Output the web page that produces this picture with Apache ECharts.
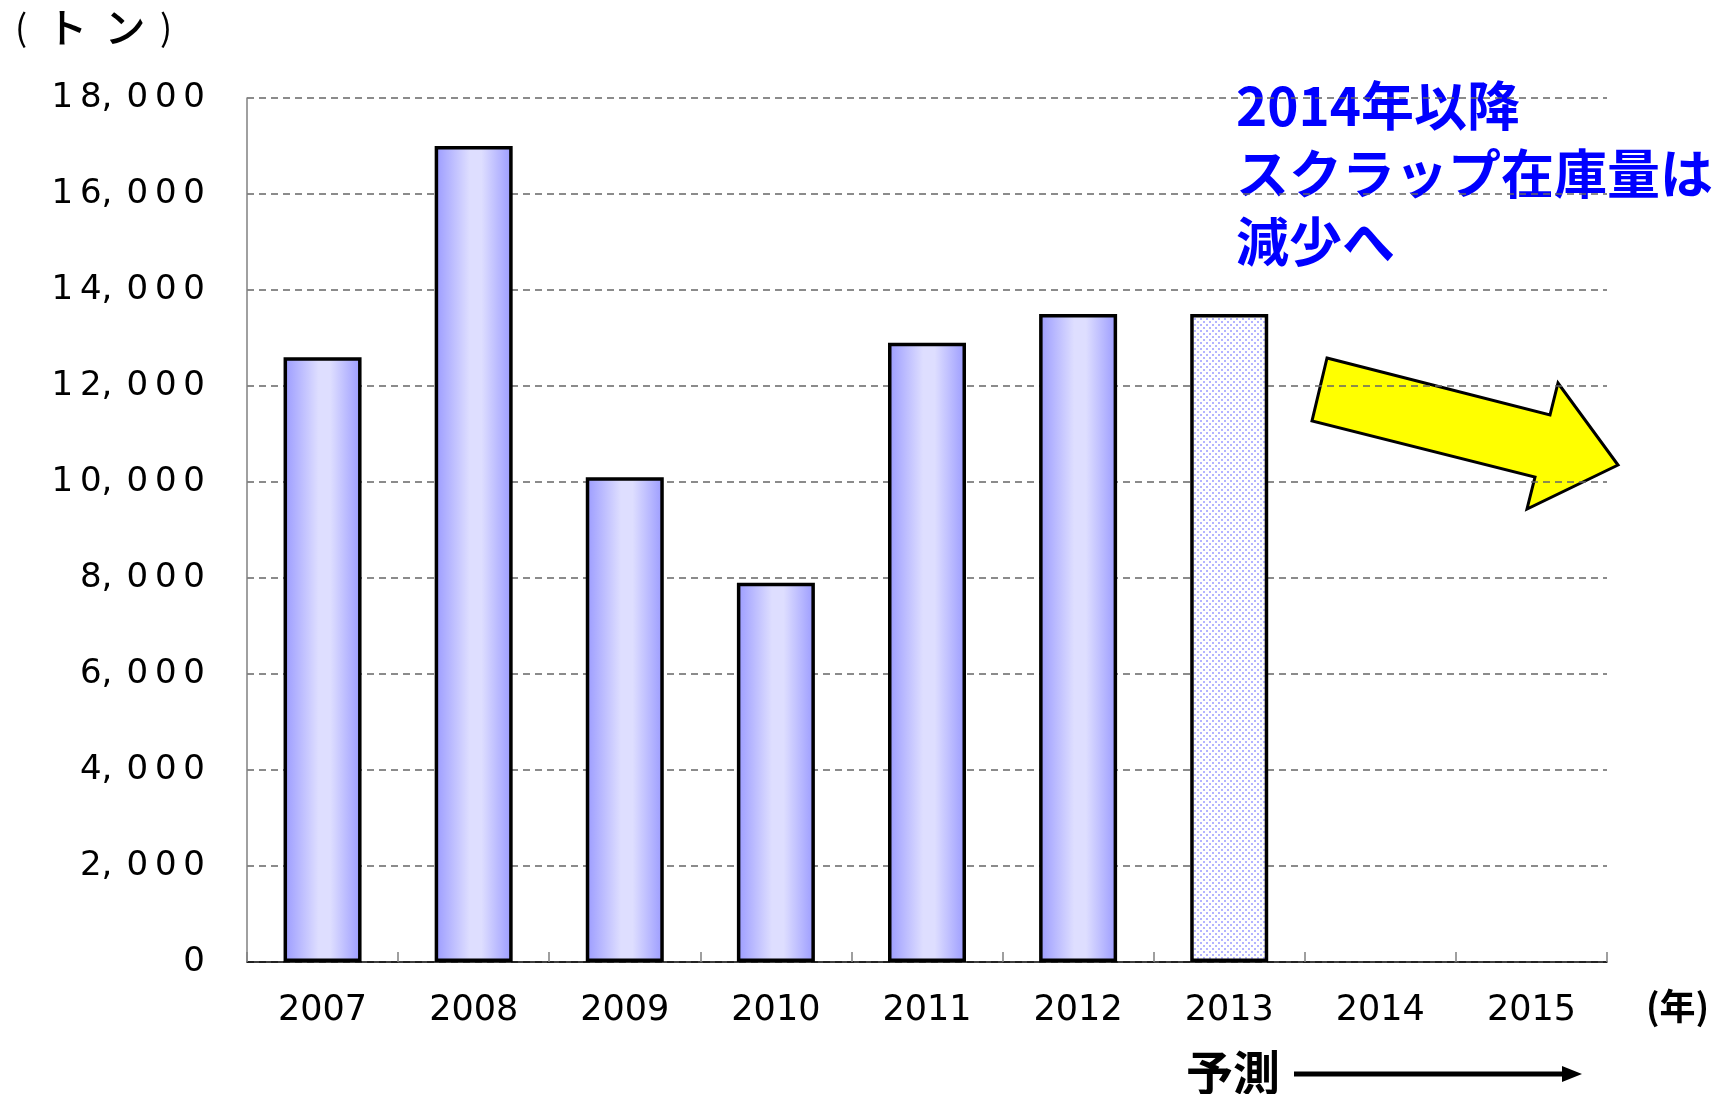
<!DOCTYPE html>
<html>
<head>
<meta charset="utf-8">
<script src="https://cdn.jsdelivr.net/npm/echarts@6/dist/echarts.min.js"></script>
<style>
html,body{margin:0;padding:0;background:#fff;}
#chart{width:1724px;height:1094px;}
</style>
</head>
<body>
<div id="chart"></div>
<script>
// ---- data ----
const years = ['2007','2008','2009','2010','2011','2012','2013','2014','2015'];
const stock = [12600, 17000, 10100, 7900, 12900, 13500, 13500, null, null];
const forecastIndex = 6; // 2013 bar drawn as forecast (dotted)
const yTicks = [0, 2000, 4000, 6000, 8000, 10000, 12000, 14000, 16000, 18000];
const unitChars = ['(', 'ト', 'ン', ')'];
const yearLabel = '(年)';
const noteText = '2014年以降\nスクラップ在庫量は\n減少へ';
const forecastText = '予測';

// dotted pattern for forecast bar
const pc = document.createElement('canvas');
pc.width = 6; pc.height = 6;
const pctx = pc.getContext('2d');
pctx.fillStyle = '#ffffff';
pctx.fillRect(0,0,6,6);
pctx.fillStyle = '#b4b4ff';
pctx.fillRect(0,0,2,2);
pctx.fillRect(3,3,2,2);

const barGrad = new echarts.graphic.LinearGradient(0,0,1,0,[
  {offset:0, color:'#9a9aff'},
  {offset:0.45, color:'#dedeff'},
  {offset:0.6, color:'#dedeff'},
  {offset:1, color:'#9a9aff'}
]);

const seriesData = stock.map((v,i)=>{
  if (i === forecastIndex) {
    return {value:v, itemStyle:{color:{image:pc, repeat:'repeat'}}};
  }
  return v;
});

const chart = echarts.init(document.getElementById('chart'), null, {renderer:'canvas'});
const latin = 'DejaVu Sans';
const cjk = '"Noto Sans CJK JP"';
const TS = '\u2009';
function spaced(s){ return s.split('').join(TS); }

const unitX = [21, 67, 125, 166];
const unitGraphics = unitChars.map((c,i)=>({
  type:'text', x:unitX[i], y:27,
  style:{text:c, font:(i===0||i===3?'36px ':'500 41px ')+cjk, fill:'#000', textAlign:'center', textVerticalAlign:'middle'}
}));

chart.setOption({
  animation:false,
  backgroundColor:'#ffffff',
  grid:{left:247, right:117, top:98, bottom:132},
  xAxis:{
    type:'category',
    data:years,
    boundaryGap:true,
    axisLine:{show:true, lineStyle:{color:'#000', width:1.5}},
    axisTick:{show:true, inside:true, length:10, alignWithLabel:false, lineStyle:{color:'#808080', width:1.5}},
    axisLabel:{color:'#000', fontSize:35, fontFamily:latin, margin:31}
  },
  yAxis:{
    type:'value',
    min:yTicks[0], max:yTicks[yTicks.length-1], interval:2000,
    axisLine:{show:true, lineStyle:{color:'#808080', width:1.5}},
    axisTick:{show:false},
    splitLine:{show:true, lineStyle:{color:'#666666', width:1.5, type:[7,5]}},
    axisLabel:{
      color:'#000', fontSize:34, fontFamily:latin, margin:42, padding:[5,0,0,0],
      formatter:function(v){
        if (v < 1000) return String(v);
        const th = String(Math.floor(v/1000));
        const rest = String(v%1000).padStart(3,'0');
        return spaced(th) + ', \u200A' + spaced(rest);
      }
    }
  },
  series:[{
    type:'bar',
    data:seriesData,
    barWidth:78,
    itemStyle:{color:barGrad, borderColor:'#000', borderWidth:3.5}
  }],
  graphic:unitGraphics.concat([
    {type:'text', x:1646, y:1006, style:{text:yearLabel, font:'bold 36px '+cjk, fill:'#000', textVerticalAlign:'middle'}},
    {type:'text', x:1236, y:72, style:{text:noteText, font:'bold 53px '+cjk, fill:'#0000ff', lineHeight:68}},
    {type:'text', x:1186, y:1072, style:{text:forecastText, font:'bold 47px '+cjk, fill:'#000', textVerticalAlign:'middle'}},
    {type:'line', shape:{x1:1294, y1:1074, x2:1566, y2:1074}, style:{stroke:'#000', lineWidth:5}},
    {type:'polygon', shape:{points:[[1582,1074],[1562,1066],[1562,1082]]}, style:{fill:'#000'}},
    {type:'polygon', shape:{points:[
      [1327,358],[1550,415],[1558,383],[1618,465],[1527,509],[1535,477],[1312,421]
    ]}, style:{fill:'#ffff00', stroke:'#000', lineWidth:3, lineJoin:'miter'}}
  ])
});
</script>
</body>
</html>
